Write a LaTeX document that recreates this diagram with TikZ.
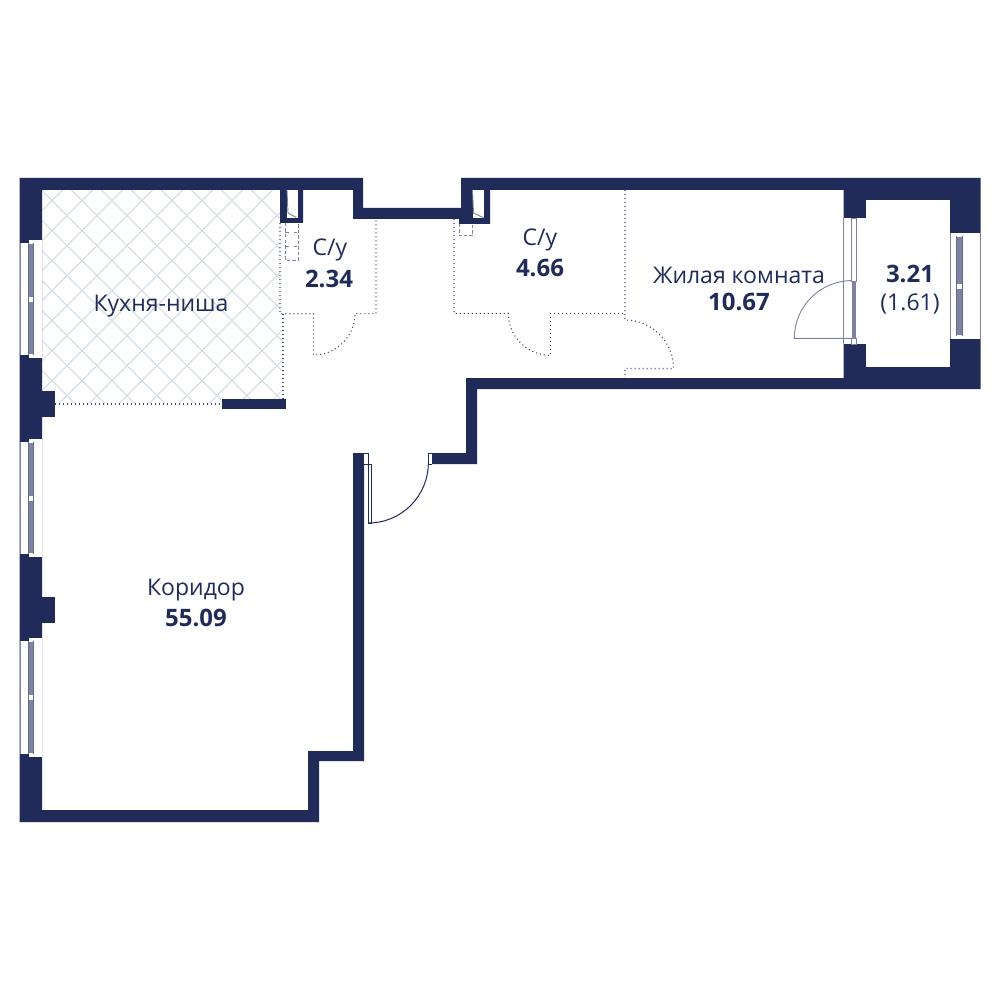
\documentclass[tikz,border=0pt]{standalone}
\usepackage{fontspec}
\setmainfont{Open Sans}
\usetikzlibrary{positioning}

\definecolor{navy}{HTML}{212B5A}
\definecolor{frame}{HTML}{7D83A0}
\definecolor{lattice}{HTML}{D3DDE5}

\tikzset{
	wall/.style={fill=navy},
	opening/.style={fill=white},
	thinline/.style={draw=frame, line width=0.9pt},
	doorline/.style={draw=navy, line width=1pt},
	dotline/.style={draw=navy!85, line width=1.1pt, dash pattern=on 1.1pt off 2.9pt},
	dashline/.style={draw=frame, line width=1pt, dash pattern=on 3.5pt off 2pt},
	roomname/.style={text=navy, font=\fontsize{23}{27}\selectfont, inner sep=0pt},
	roomarea/.style={text=navy, font=\fontsize{24}{28}\selectfont\bfseries, inner sep=0pt},
}

% pane of a window: left x, right x, top y, bottom y
\newcommand{\glasspane}[4]{
	\pgfmathsetmacro{\panemid}{(#3+#4)/2}
	\fill[frame] (#1,#3+3) rectangle (#2,#4-3);
	\draw[navy!70, line width=0.5pt] (#1,#3+3) -- (#1,#4-3) (#2,#3+3) -- (#2,#4-3);
	\fill[white] (#1,#3) rectangle (#2,#3+4);
	\fill[white] (#1,#4-4) rectangle (#2,#4);
	\fill[white] (#1,\panemid-2.5) rectangle (#2,\panemid+2.5);
	\draw[frame, line width=0.8pt] (#1,#3+6) -- (#2,#3+6) (#1,#4-6) -- (#2,#4-6)
		(#1,\panemid-5) -- (#2,\panemid-5) (#1,\panemid+5) -- (#2,\panemid+5);
}

\begin{document}
\begin{tikzpicture}[x=1pt, y=-1pt]

\useasboundingbox (0,0) rectangle (1000,1000);
\fill[white] (0,0) rectangle (1000,1000);

% Kitchen floor
\begin{scope}
\clip (42,190) -- (280,190) -- (280,314) -- (283,314) -- (283,399) -- (222,399) -- (222,404) -- (55,404) -- (55,391) -- (42,391) -- cycle;
\foreach \k in {0,...,15} {
	\pgfmathsetmacro{\sumc}{222.7+30*\k}
	\pgfmathsetmacro{\difc}{-358.7+30*\k}
	\draw[lattice, line width=1pt] ({\sumc-180},180) -- ({\sumc-420},420);
	\draw[lattice, line width=1pt] ({\difc+180},180) -- ({\difc+420},420);
}
\end{scope}

% Walls
\fill[wall] (364,453) -- (364,761) -- (319,761) -- (319,822) -- (19.5,822) -- (19.5,178)
	-- (363,178) -- (363,208) -- (461,208) -- (461,178) -- (980.5,178) -- (980.5,389)
	-- (477,389) -- (477,464) -- (432,464) -- (432,453) -- (466,453) -- (466,378)
	-- (843.5,378) -- (843.5,190) -- (490,190) -- (490,224) -- (459,224) -- (459,219)
	-- (353,219) -- (353,190) -- (303,190) -- (303,223) -- (280,223) -- (280,190)
	-- (42,190) -- (42,810) -- (308,810) -- (308,751) -- (353,751) -- (353,453) -- cycle;
\fill[wall] (42,390.7) rectangle (55,416.7);
\fill[wall] (42,596.7) rectangle (55,622.7);
\fill[wall] (222.3,399) rectangle (285.7,409.3);

% Shafts
\fill[opening] (286.5,190) rectangle (297.5,217.7);
\draw[thinline] (287,190) -- (288,213) -- (296,217.3);
\fill[opening] (472.5,190) rectangle (484,218);
\draw[thinline] (472.5,190) -- (473.5,213) -- (483.5,217.7);

% Balcony
\fill[opening] (866,200) rectangle (950,366.7);

% Windows, left side
\foreach \wintop/\winbot in {240/358,439/557,638/757} {
	\fill[opening] (20.5,\wintop+3) rectangle (28.5,\winbot-3.5);
	\fill[frame] (19.5,\wintop+3) rectangle (20.5,\winbot-3.5);
	\fill[opening] (28.5,\wintop) rectangle (41.5,\winbot);
	\glasspane{28.5}{33}{\wintop}{\winbot}
}

% Window, balcony door
\fill[opening] (843.5,218) rectangle (866,344);
\draw[thinline] (843.5,218) -- (843.5,344);
\draw[thinline] (851.7,218) rectangle (856,281);
\fill[frame] (851.7,281) rectangle (856,338);
\fill[opening] (851.7,338) rectangle (856,344);
\draw[thinline] (851.7,338) rectangle (856,344);

% Window, balcony
\fill[opening] (950,233) rectangle (980,339);
\draw[thinline] (980,233) -- (980,339) (950,233) -- (950,339);
\glasspane{956.7}{962.3}{233}{339}

% Doors
\fill[opening] (364.3,453) rectangle (368.6,464);
\fill[opening] (428,453) rectangle (432,464);
\draw[doorline] (364.3,453) -- (368.6,453) -- (368.6,464) -- (364.3,464);
\draw[doorline] (432,453) -- (428,453) -- (428,464) -- (432,464);
\draw[doorline] (368.3,464) rectangle (371.3,523);
\draw[doorline] (368.3,523) arc[start angle=90, end angle=0, radius=60];
\draw[thinline] (852,338.3) -- (794.3,338.3) arc[start angle=180, end angle=270, radius=57.7];

% Partitions
\draw[dotline] (280,223) -- (280,313.7) -- (313.5,313.7) -- (313.5,355) arc[start angle=90, end angle=0, radius=41.5] -- (376,313.7) -- (376,219);
\draw[dotline] (283,313.7) -- (283,399);
\draw[dotline] (55,404) -- (222,404);
\draw[dotline] (454,219) -- (454,313.3) -- (508.3,313.3) arc[start angle=180, end angle=90, radius=42] -- (550.3,313.3) -- (625,313.3);
\draw[dotline] (625,190) -- (625,320) arc[start angle=-90, end angle=0, radius=48.5] -- (625,368.5) -- (625,378);

% Fixtures
\draw[dashline] (285,223) -- (285,260) -- (298.3,260) -- (298.3,223);
\draw[dashline] (285,232.3) -- (290,232.3) (293.5,232.3) -- (298.3,232.3);
\draw[dashline] (285,246.7) -- (290,246.7) (293.5,246.7) -- (298.3,246.7);
\draw[dashline] (459,224) -- (459,236) -- (472.3,236) -- (472.3,224);

% Labels
\node[roomname] (kitchen) at (161,306) {Кухня-ниша};
\node[roomname] (bath_small) at (330,250) {С/у};
\node[roomarea] (bath_small_area) at (329,279) {2.34};
\node[roomname] (bath_large) at (540,240) {С/у};
\node[roomarea] (bath_large_area) at (540,268) {4.66};
\node[roomname] (living) at (739,275) {Жилая комната};
\node[roomarea] (living_area) at (739,302) {10.67};
\node[roomarea] (balcony_area) at (910,274) {3.21};
\node[roomname] (balcony_half) at (910,304) {(1.61)};
\node[roomname] (corridor) at (196,590) {Коридор};
\node[roomarea] (corridor_area) at (196,618) {55.09};

\end{tikzpicture}
\end{document}
